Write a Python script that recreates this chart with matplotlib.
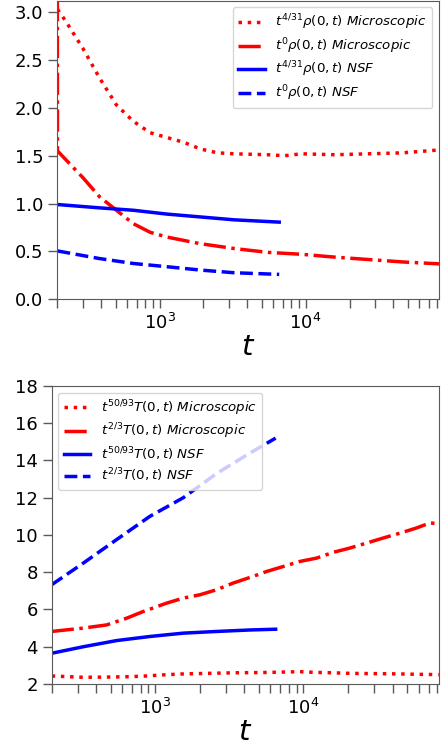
import numpy as np
import matplotlib.pyplot as plt

# ---- density, top panel ----
rho_t_micro = [200, 229, 299, 389, 507, 661, 862, 1124, 1466, 1910, 2490, 3250,
               5520, 7200, 9380, 15950, 27100, 46100, 82000]
rho_scaled_micro = [3.03, 2.90, 2.62, 2.31, 2.03, 1.86, 1.74, 1.69, 1.64, 1.57, 1.53, 1.52,
                    1.51, 1.50, 1.52, 1.51, 1.52, 1.53, 1.56]

rho_t_micro0 = [199, 200, 299, 389, 507, 661, 862, 1124, 1910, 3250, 5520, 9380,
                15950, 27100, 46100, 82000]
rho_micro0 = [6.0, 1.55, 1.27, 1.07, 0.93, 0.79, 0.70, 0.65, 0.58, 0.53, 0.49, 0.47,
              0.44, 0.415, 0.39, 0.37]

nsf_t = [200, 389, 661, 1124, 1910, 3250, 6600]
rho_scaled_nsf = [0.99, 0.955, 0.93, 0.89, 0.86, 0.83, 0.806]
rho_nsf0 = [0.505, 0.425, 0.374, 0.34, 0.305, 0.277, 0.26]

# ---- temperature, bottom panel ----
T_t_micro = [200, 326, 469, 640, 829, 1193, 1546, 2005, 2595, 3365, 4592, 5650,
             7330, 9490, 12300, 15950, 20650, 26800, 34700, 45000, 58300, 71700, 82000]
T_micro23 = [4.82, 5.0, 5.17, 5.53, 5.89, 6.34, 6.61, 6.79, 7.06, 7.42, 7.78, 8.04,
             8.31, 8.58, 8.76, 9.07, 9.30, 9.57, 9.84, 10.1, 10.38, 10.65, 10.6]
T_micro5093 = [2.43, 2.36, 2.37, 2.39, 2.42, 2.50, 2.54, 2.56, 2.58, 2.60, 2.61, 2.62,
               2.64, 2.66, 2.62, 2.60, 2.57, 2.56, 2.55, 2.54, 2.52, 2.51, 2.50]

T_t_nsf = [200, 327, 548, 920, 1546, 2595, 4360, 6500]
T_nsf23 = [7.33, 8.49, 9.75, 11.0, 12.0, 13.3, 14.4, 15.2]
T_nsf5093 = [3.65, 4.0, 4.33, 4.55, 4.73, 4.82, 4.9, 4.94]

XLIM = (200, 82000)

fig = plt.figure(figsize=(4.48, 7.45), dpi=100)
ax = []
ax.append(fig.add_axes([0.1283, 0.5983, 0.8516, 0.4008]))
ax.append(fig.add_axes([0.1154, 0.0819, 0.8638, 0.4000]))

lw = 2.5
ax[0].plot(rho_t_micro, rho_scaled_micro, linestyle=':', color='red', lw=lw,
           label=r'$t^{4/31}\rho(0,t)\ Microscopic$')
ax[0].plot(rho_t_micro0, rho_micro0, linestyle='-.', color='red', lw=lw,
           label=r'$t^{0}\rho(0,t)\ Microscopic$')
ax[0].plot(nsf_t, rho_scaled_nsf, linestyle='-', color='blue', lw=lw,
           label=r'$t^{4/31}\rho(0,t)\ NSF$')
ax[0].plot(nsf_t, rho_nsf0, linestyle='--', color='blue', lw=lw,
           label=r'$t^{0}\rho(0,t)\ NSF$')
ax[0].set_ylim(0, 3.12)
ax[0].set_yticks([0.0, 0.5, 1.0, 1.5, 2.0, 2.5, 3.0])
ax[0].legend(loc='upper right', fontsize=9.6, labelspacing=0.3)

ax[1].plot(T_t_micro, T_micro5093, linestyle=':', color='red', lw=lw,
           label=r'$t^{50/93}T(0,t)\ Microscopic$')
ax[1].plot(T_t_micro, T_micro23, linestyle='-.', color='red', lw=lw,
           label=r'$t^{2/3}T(0,t)\ Microscopic$')
ax[1].plot(T_t_nsf, T_nsf5093, linestyle='-', color='blue', lw=lw,
           label=r'$t^{50/93}T(0,t)\ NSF$')
ax[1].plot(T_t_nsf, T_nsf23, linestyle='--', color='blue', lw=lw,
           label=r'$t^{2/3}T(0,t)\ NSF$')
ax[1].set_ylim(2, 18)
ax[1].set_yticks(np.arange(2, 19, 2))
ax[1].legend(loc='upper left', fontsize=9.6, labelspacing=0.3)

for a in ax:
    a.set_xscale('log')
    a.set_xlim(*XLIM)
    a.set_xlabel(r'$t$', fontsize=21, labelpad=0)
    a.tick_params(which='both', direction='out', length=6.5, width=1,
                  color='0.35', labelsize=13)
    for s in a.spines.values():
        s.set_color('0.35')

fig.savefig('out.png', dpi=100)
